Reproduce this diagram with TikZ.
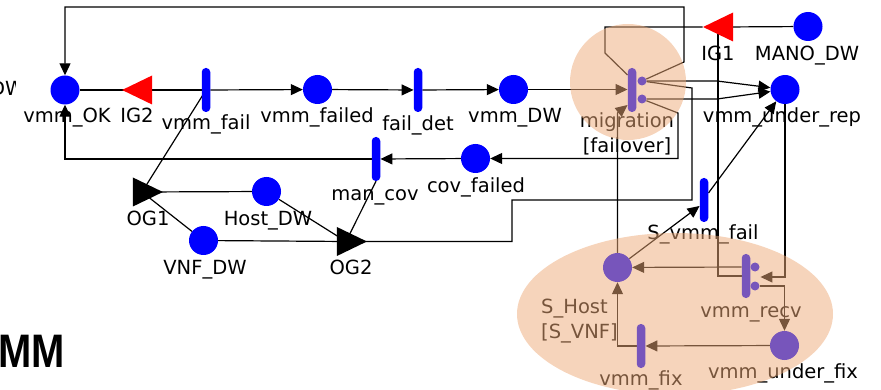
\documentclass[tikz,border=0pt]{standalone}
\usepackage{fontspec}
\setmainfont{DejaVu Sans}
\newfontfamily\titlefont{Liberation Sans}
\usetikzlibrary{shapes.geometric,arrows.meta,calc}
\pgfdeclarelayer{wires}
\pgfdeclarelayer{shade}
\pgfsetlayers{wires,main,shade}
\definecolor{peach}{RGB}{238,170,120}

\begin{document}
\begin{tikzpicture}[x=1pt,y=-1pt,
    >={Triangle[length=12pt,width=11pt]},
    arc/.style={line width=1.2pt},
    place/.style={circle,fill=blue,minimum size=29pt,inner sep=0pt},
    act/.style={rectangle,rounded corners=4pt,fill=blue,minimum width=8.5pt,minimum height=44pt,inner sep=0pt},
    cas/.style={circle,fill=blue,minimum size=9pt,inner sep=0pt},
    igate/.style={isosceles triangle,isosceles triangle stretches,shape border rotate=180,
        fill=red,minimum width=29pt,minimum height=30pt,inner sep=0pt},
    ogate/.style={igate,shape border rotate=0,fill=black},
    lbl/.style={anchor=base,inner sep=0pt,font=\fontsize{19.5}{25}\selectfont}]
\useasboundingbox (0,0) rectangle (881,390);

% places, activities and gates
\node[place] (pOK) at (65,90) {};
\node[igate] (igII) at (143,90) {};
\node[act] (tFail) at (206,90) {};
\node[place] (pFailed) at (317.5,89.5) {};
\node[act] (tDet) at (418,90) {};
\node[place] (pDW) at (513.5,89.5) {};
\node[act] (tMig) at (632,90) {};
\node[cas] (cMigA) at (642,81) {};
\node[cas] (cMigB) at (642,99) {};
\node[igate] (igI) at (724,27) {};
\node[place] (pMano) at (808,26.5) {};
\node[place] (pRep) at (785,89.5) {};
\node[place] (pCov) at (475.5,158.5) {};
\node[act] (tCov) at (376,159) {};
\node[ogate] (ogI) at (142,192) {};
\node[place] (pHost) at (266.5,191.5) {};
\node[place] (pVnf) at (203.5,240.5) {};
\node[ogate] (ogII) at (346,241.5) {};
\node[act] (tSFail) at (704,200) {};
\node[place] (pSHost) at (617.5,267.5) {};
\node[act] (tRecv) at (746,276) {};
\node[cas] (cRecvA) at (755,267) {};
\node[cas] (cRecvB) at (755,286) {};
\node[place] (pFix) at (784.5,345.5) {};
\node[act] (tFix) at (641,346) {};

% labels
\node[lbl] (lOK) at (67,123) {vmm\_OK};
\node[lbl] (lIGII) at (137,123) {IG2};
\node[lbl] (lFail) at (206,130) {vmm\_fail};
\node[lbl] (lFailed) at (317,123) {vmm\_failed};
\node[lbl] (lDet) at (418,131) {fail\_det};
\node[lbl] (lDW) at (515,123) {vmm\_DW};
\node[lbl,anchor=north,align=center] (lMig) at (627,112) {migration\\{[failover]}};
\node[lbl] (lIGI) at (718,61) {IG1};
\node[lbl] (lMano) at (807,61) {MANO\_DW};
\node[lbl] (lRep) at (782,123) {vmm\_under\_rep};
\node[lbl] (lCov) at (476,193) {cov\_failed};
\node[lbl] (lManCov) at (375,201) {man\_cov};
\node[lbl] (lOGI) at (148,226) {OG1};
\node[lbl] (lHost) at (268,226) {Host\_DW};
\node[lbl] (lVnf) at (205,275) {VNF\_DW};
\node[lbl] (lOGII) at (351,275) {OG2};
\node[lbl] (lSFail) at (703,240) {S\_vmm\_fail};
\node[lbl,anchor=north west,align=left] (lSHost) at (541,299) {S\_Host\\{[S\_VNF]}};
\node[lbl] (lRecv) at (751,317) {vmm\_recv};
\node[lbl] (lFix) at (783,378) {vmm\_under\_fix};
\node[lbl] (lVFix) at (641,385) {vmm\_fix};

% cut-off texts at the left edge
\begin{scope}
\clip (0,70) rectangle (15,105);
\node[lbl,anchor=base west] (lCut) at (-10,96) {DW};
\end{scope}
\node[anchor=base east,inner sep=0pt] (lTitle) at (65,367)
    {\titlefont\bfseries\fontsize{47}{50}\selectfont\scalebox{0.85}[1]{VMM}};

% arcs
\begin{pgfonlayer}{wires}
\begin{scope}[arc]
\draw (pOK) -- (igII.center) -- (tFail);
\draw[->] (tFail) -- (pFailed);
\draw[->] (pFailed) -- (tDet);
\draw[->] (tDet) -- (pDW);
\draw[->] (pDW) -- (pDW -| tMig.west);
\draw (pMano) -- (igI.center);
\draw (igI.apex) -| (605,53) -- ($(tMig.west)+(0,-15)$);
\draw (718,27) |- (tRecv.west);
\draw[->] (cMigA) -- (684,62) -- (684,7) -| (pOK);
\draw[->] (cMigA) -- (717,81) -- (pRep);
\draw[->] (cMigB) -- (717,99) -- (pRep);
\draw (cMigA) -- (692,88) -- (692,200) -- (512,200) -- (512,241.5) -- (ogII.center);
\draw[->] (cMigB) -- (678,113) |- (pCov);
\draw[->] (pCov) -- (tCov);
\draw[->] (tCov) -| (pOK);
\draw (tCov.south) -- (ogII.center);
\draw (tFail.center) -- (ogI.center);
\draw (ogI.center) -- (pHost);
\draw (ogI.center) -- (pVnf);
\draw (pHost) -- (ogII.center);
\draw (pVnf) -- (ogII.center);
\draw[->] (pSHost) -- ($(tSFail.west)+(0,6)$);
\draw[->] ($(tSFail.east)+(0,-7)$) -- (pRep);
\draw[->] (pSHost) -- (617.5,113) -- ($(tMig.west)+(0,15)$);
\draw[->] (pRep) |- ($(tRecv.east)+(10,1)$);
\draw[->] (tRecv.west |- cRecvA) -- (pSHost);
\draw[->] (cRecvB) -| (pFix);
\draw[->] (pFix) -- (tFix);
\draw[->] (tFix) -| (pSHost);
\end{scope}
\end{pgfonlayer}

% shaded groups
\begin{pgfonlayer}{shade}
\fill[peach,opacity=0.5] (628,82) circle[radius=58];
\fill[peach,opacity=0.5] (675,314) ellipse[x radius=158,y radius=81];
\end{pgfonlayer}
\end{tikzpicture}
\end{document}
